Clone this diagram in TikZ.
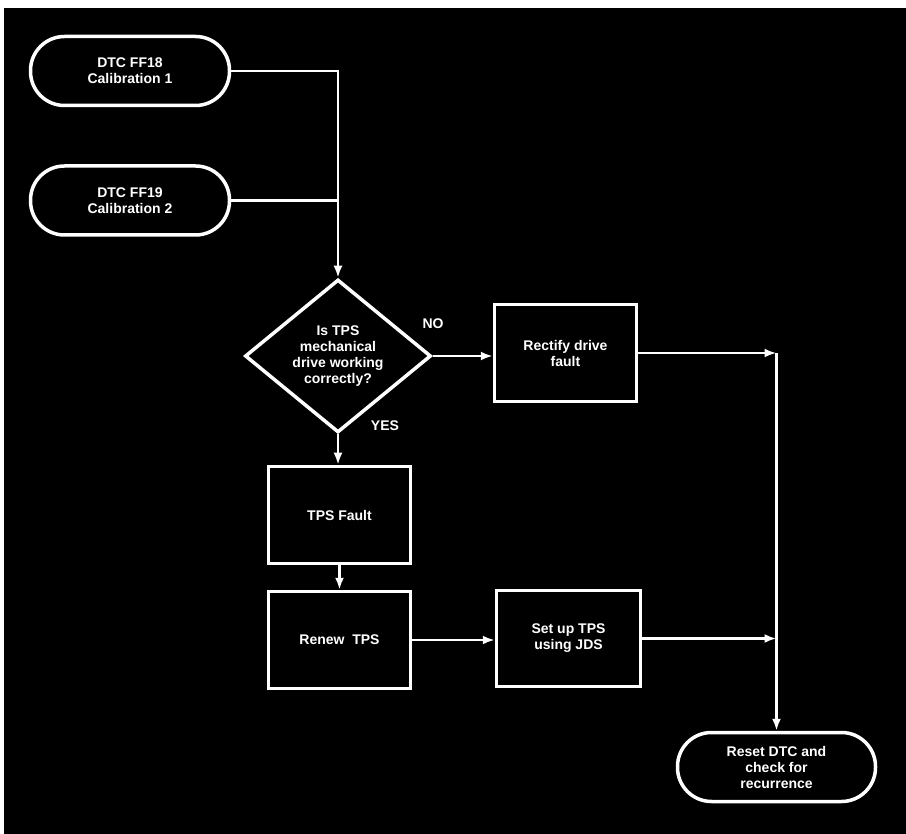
\documentclass[tikz,border=0pt]{standalone}
\usepackage{fontspec}
\setmainfont{Liberation Sans}
\usetikzlibrary{shapes.geometric,arrows.meta}
\begin{document}
\begin{tikzpicture}[x=1pt,y=-1pt,
  txt/.style={font=\fontsize{14}{16}\selectfont\bfseries},
  box/.style={draw=white,line width=3.5pt,rectangle,inner sep=0pt,text=white,align=center,txt},
  term/.style={box,rounded corners=34pt,minimum width=199pt,minimum height=69pt},
  proc/.style={box,minimum width=142pt,minimum height=97pt},
  dec/.style={box,diamond,aspect=1.216,minimum width=186pt,minimum height=153pt},
  conn/.style={draw=white,line width=2.8pt},
  arr/.style={conn,-{Latex[length=12pt,width=9pt]}},
  lbl/.style={text=white,inner sep=0pt,txt}
]
\useasboundingbox (0,0) rectangle (906,834);
\fill[white] (0,0) rectangle (906,834);
\fill[black] (4,8) rectangle (906,834);

\node[term] (start1) at (130,71) {DTC FF18\\Calibration 1};
\node[term] (start2) at (130,200.5) {DTC FF19\\Calibration 2};
\node[dec] (dec) at (338,356) {Is TPS\\mechanical\\drive working\\correctly?};
\node[proc] (rect) at (565.5,353) {Rectify drive\\fault};
\node[proc] (fault) at (339.5,515) {TPS Fault};
\node[proc] (renew) at (339.5,640) {Renew\ \ TPS};
\node[proc,minimum width=144pt,minimum height=96pt] (setup) at (568.5,638.5) {Set up TPS\\using JDS};
\node[term,minimum width=198pt] (reset) at (776.5,767) {Reset DTC and\\check for\\recurrence};

\node[lbl] (no) at (433,324) {NO};
\node[lbl] (yes) at (385,426) {YES};

\draw[arr] (start1.east) -| (dec.north);
\draw[conn] (start2.east) -- (start2.east -| dec.north);
\draw[arr] (dec.east) -- (dec.east -| rect.west);
\draw[arr] (rect.east) -- (rect.east -| reset.north);
\draw[arr] (rect.east -| reset.north) -- (reset.north);
\draw[arr] (dec.south) -- (dec.south |- fault.north);
\draw[arr] (fault.south) -- (renew.north);
\draw[arr] (renew.east) -- (renew.east -| setup.west);
\draw[arr] (setup.east) -- (setup.east -| reset.north);
\end{tikzpicture}
\end{document}
